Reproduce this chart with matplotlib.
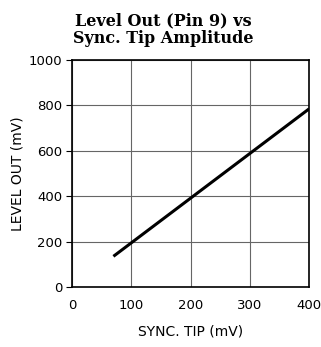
"""Level Out (Pin 9) vs Sync. Tip Amplitude."""

import matplotlib
matplotlib.use("Agg")
import matplotlib.pyplot as plt

sync_tip = [70, 400]       # mV
level_out = [135, 785]     # mV

x_ticks = [0, 100, 200, 300, 400]
y_ticks = [0, 200, 400, 600, 800, 1000]

plt.rcParams.update({"font.family": "DejaVu Sans", "font.size": 9})

fig = plt.figure(figsize=(3.21, 3.47), dpi=100)
ax = fig.add_axes([0.224, 0.173, 0.739, 0.654])

ax.plot(sync_tip, level_out, color="black", linewidth=2.2, solid_capstyle="butt")

ax.set_xlim(0, 400)
ax.set_ylim(0, 1000)
ax.set_xticks(x_ticks)
ax.set_yticks(y_ticks)
ax.grid(color="#666666", linewidth=0.8)
ax.tick_params(axis="x", length=0, pad=9, labelsize=9.5)
ax.tick_params(axis="y", length=4, width=0.8, pad=3, labelsize=9.5)
for s in ax.spines.values():
    s.set_linewidth(1.2)

ax.set_xlabel("SYNC. TIP (mV)", fontsize=10, labelpad=9)
ax.set_ylabel("LEVEL OUT (mV)", fontsize=10, labelpad=3)

fig.text(0.51, 0.965, "Level Out (Pin 9) vs\nSync. Tip Amplitude",
         ha="center", va="top", fontsize=11.5, fontweight="bold",
         family="DejaVu Serif", linespacing=1.05)

fig.savefig("out.png", dpi=100)
